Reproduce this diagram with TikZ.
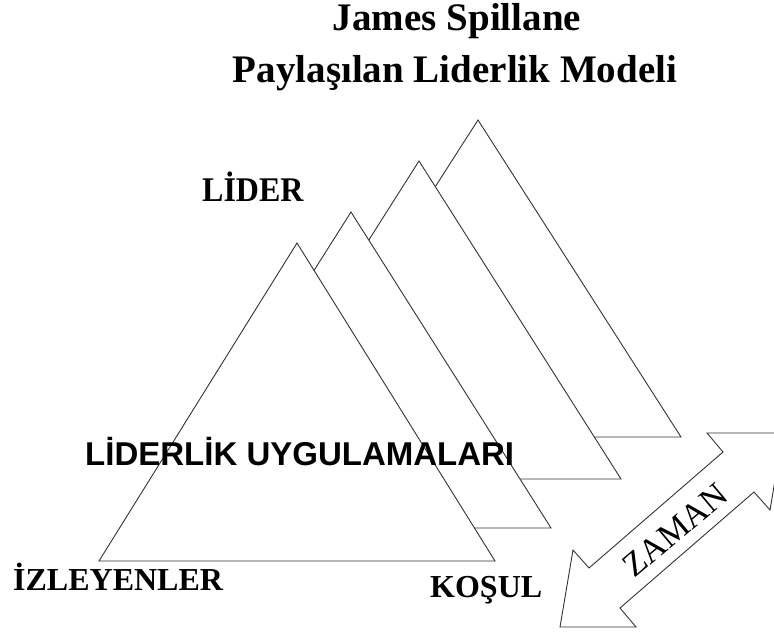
\documentclass[tikz,border=0pt]{standalone}
\usepackage{fontspec}
\setmainfont{Liberation Serif}
\setsansfont{Liberation Sans}
\usetikzlibrary{positioning}

\tikzset{
  tri/.style={draw=black!80, line width=0.9pt, fill=white, line join=miter},
  lbl/.style={font=\bfseries\fontsize{32}{32}\selectfont, inner sep=0pt, anchor=base west},
  ttl/.style={font=\bfseries\fontsize{39}{39}\selectfont, inner sep=0pt, anchor=base},
}

\begin{document}
\begin{tikzpicture}[x=1pt,y=-1pt]
  \useasboundingbox (0,0) rectangle (774,633);
  \clip (0,0) rectangle (774,633);
  % title
  \node[ttl] (title1) at (457,30) {James Spillane};
  \node[ttl] (title2) at (455,82) {Paylaşılan Liderlik Modeli};
  % triangles, back to front (apex x/apex y/base y/half base)
  \foreach \ax/\ay/\by/\hb in {478/120/437/203, 419/161/479/202, 351/212/528/200, 297/243/561/198}
    \draw[tri] (\ax,\ay) -- (\ax+\hb,\by) -- (\ax-\hb,\by) -- cycle;
  % corner labels
  \node[lbl, yscale=1.08] (lider) at (202,201) {LİDER};
  \node[lbl] (izleyen) at (13,590) {İZLEYENLER};
  \node[lbl] (kosul) at (430,597) {KOŞUL};
  \node[lbl, font=\sffamily\bfseries\fontsize{33}{33}\selectfont] (uygulama) at (85,465) {LİDERLİK UYGULAMALARI};
  % time arrow
  \draw[tri] (783,433) -- (707,433) -- (723,452) -- (589,568) -- (573,550) -- (560,627)
    -- (636,627) -- (620,608) -- (754,492) -- (770,510) -- cycle;
  \node[font=\fontsize{34}{34}\selectfont, rotate=40, inner sep=0pt] (zaman) at (675,530) {ZAMAN};
\end{tikzpicture}
\end{document}
